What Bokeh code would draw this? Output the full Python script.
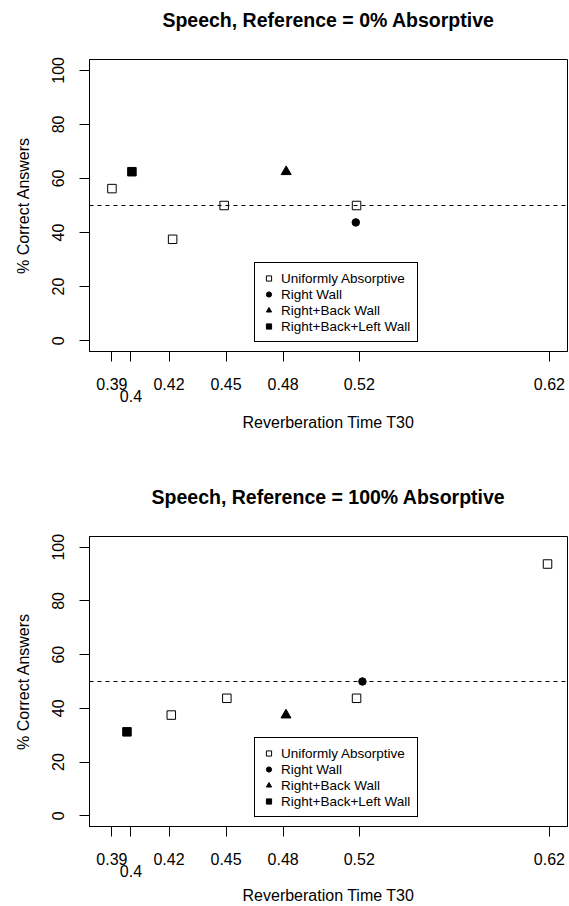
from bokeh.plotting import figure
from bokeh.models import Range1d, FixedTicker, Span, Legend, LinearAxis, Title
from bokeh.layouts import column
from bokeh.embed import file_html
from bokeh.resources import INLINE

# ---- data ----
x_ticks = [0.39, 0.4, 0.42, 0.45, 0.48, 0.52, 0.62]
x_tick_labels = ["0.39", "0.4", "0.42", "0.45", "0.48", "0.52", "0.62"]
staggered_labels = ["0.4"]          # drawn one line lower, like R does
y_ticks = [0, 20, 40, 60, 80, 100]
chance_level = 50

series_names = ["Uniformly Absorptive", "Right Wall", "Right+Back Wall", "Right+Back+Left Wall"]

# Panel 1: Reference = 0% Absorptive
p1_uniform_x = [0.39, 0.4219, 0.449, 0.5186]
p1_uniform_y = [56.25, 37.5, 50, 50]
p1_right_x = [0.5182]
p1_right_y = [43.75]
p1_rb_x = [0.4816]
p1_rb_y = [62.5]
p1_rbl_x = [0.4005]
p1_rbl_y = [62.5]

# Panel 2: Reference = 100% Absorptive
p2_uniform_x = [0.4212, 0.4504, 0.5186, 0.619]
p2_uniform_y = [37.5, 43.75, 43.75, 93.75]
p2_right_x = [0.5217]
p2_right_y = [50]
p2_rb_x = [0.4815]
p2_rb_y = [37.5]
p2_rbl_x = [0.3979]
p2_rbl_y = [31.25]

FONT = "Liberation Sans"
X_RANGE = (0.3782, 0.6295)
Y_RANGE = (-4, 104)


def style_axis(ax):
    ax.axis_line_color = "black"
    ax.major_tick_line_color = "black"
    ax.major_tick_out = 10
    ax.major_tick_in = 0
    ax.minor_tick_line_color = None
    ax.major_label_text_font = FONT
    ax.major_label_text_font_size = "16px"
    ax.major_label_text_color = "black"
    ax.axis_label_text_font = FONT
    ax.axis_label_text_font_size = "16px"
    ax.axis_label_text_font_style = "normal"
    ax.axis_label_text_color = "black"


def make_panel(title, data, height, top_border, bottom_border, xlab_standoff):
    p = figure(width=569, height=height, output_backend="svg", toolbar_location=None,
               x_range=Range1d(*X_RANGE), y_range=Range1d(*Y_RANGE),
               min_border_left=89, min_border_right=2,
               min_border_top=top_border, min_border_bottom=bottom_border)

    # spacer (closest to frame) then the real title
    p.add_layout(Title(text=" ", text_font_size="11px", text_font=FONT), "above")
    p.add_layout(Title(text=title, text_font=FONT, text_font_size="19.5px",
                       text_font_style="bold", text_color="black", align="center"), "above")

    p.grid.visible = False
    p.outline_line_color = "black"
    p.outline_line_width = 1
    p.outline_line_alpha = 1

    xa = p.xaxis[0]
    ya = p.yaxis[0]
    style_axis(xa)
    style_axis(ya)

    xa.ticker = FixedTicker(ticks=x_ticks)
    xa.major_label_overrides = {t: ("" if lab in staggered_labels else lab)
                                for t, lab in zip(x_ticks, x_tick_labels)}
    xa.major_label_standoff = 16

    # second axis row: staggered tick label + axis title
    st_ticks = [t for t, lab in zip(x_ticks, x_tick_labels) if lab in staggered_labels]
    xa2 = LinearAxis(ticker=FixedTicker(ticks=st_ticks))
    style_axis(xa2)
    xa2.axis_line_color = None
    xa2.major_tick_line_color = None
    xa2.major_tick_out = 0
    xa2.major_label_overrides = {t: lab for t, lab in zip(x_ticks, x_tick_labels)
                                 if lab in staggered_labels}
    xa2.major_label_standoff = -3
    xa2.axis_label = "Reverberation Time T30"
    xa2.axis_label_standoff = xlab_standoff
    p.add_layout(xa2, "below")

    ya.ticker = FixedTicker(ticks=y_ticks)
    ya.major_label_orientation = "vertical"
    ya.major_label_standoff = 15
    ya.axis_label = "% Correct Answers"
    ya.axis_label_standoff = 18

    p.add_layout(Span(location=chance_level, dimension="width", line_color="black",
                      line_width=1, line_dash="4 4"))

    (ux, uy), (rx, ry), (bx, by), (lx, ly) = data
    r1 = p.scatter(ux, uy, marker="square", size=8.5, fill_color=None,
                   line_color="black", line_width=1)
    r2 = p.scatter(rx, ry, marker="circle", size=7.5, fill_color="black",
                   line_color="black")
    r3 = p.scatter(bx, by, marker="triangle", size=10, fill_color="black",
                   line_color="black")
    r4 = p.scatter(lx, ly, marker="square", size=8.5, fill_color="black",
                   line_color="black")

    legend = Legend(items=[(series_names[0], [r1]), (series_names[1], [r2]),
                           (series_names[2], [r3]), (series_names[3], [r4])],
                    location=(165, 9))
    legend.border_line_color = "black"
    legend.border_line_width = 1
    legend.border_line_alpha = 1
    legend.background_fill_color = "white"
    legend.background_fill_alpha = 1
    legend.label_text_font = FONT
    legend.label_text_font_size = "13.5px"
    legend.label_text_color = "black"
    legend.label_height = 16
    legend.glyph_height = 16
    legend.glyph_width = 13
    legend.label_standoff = 6
    legend.padding = 7
    legend.spacing = 0
    legend.margin = 0
    p.add_layout(legend, "center")
    return p


p1 = make_panel("Speech, Reference = 0% Absorptive",
                [(p1_uniform_x, p1_uniform_y), (p1_right_x, p1_right_y),
                 (p1_rb_x, p1_rb_y), (p1_rbl_x, p1_rbl_y)],
                height=475, top_border=59, bottom_border=124, xlab_standoff=9)
p2 = make_panel("Speech, Reference = 100% Absorptive",
                [(p2_uniform_x, p2_uniform_y), (p2_right_x, p2_right_y),
                 (p2_rb_x, p2_rb_y), (p2_rbl_x, p2_rbl_y)],
                height=431, top_border=61, bottom_border=79, xlab_standoff=7)

layout = column(p1, p2, spacing=0)
open("out.html", "w").write(file_html(layout, INLINE))
